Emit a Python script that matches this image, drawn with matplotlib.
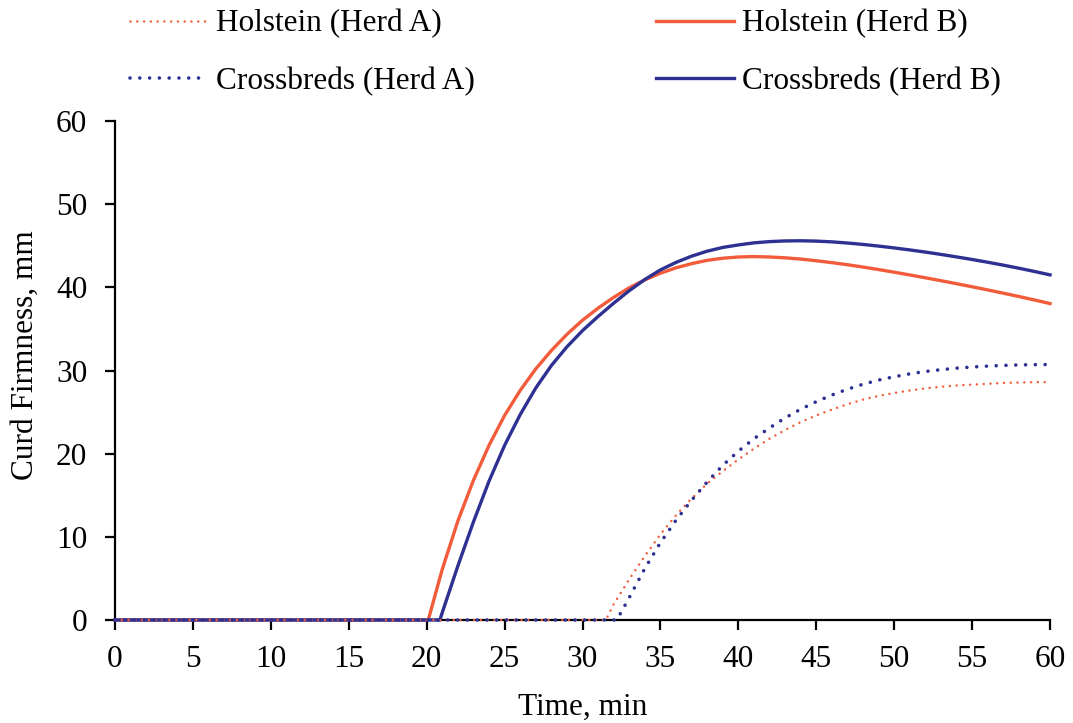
import numpy as np
import matplotlib
matplotlib.use('Agg')
import matplotlib.pyplot as plt
from matplotlib.lines import Line2D

plt.rcParams['font.family'] = ['Liberation Serif', 'DejaVu Serif']

ORANGE = '#F25C3B'
NAVY = '#2E3192'
FS = 22.5

# time (min) and curd firmness (mm)
t_hol_b = [0, 20.1, 21, 22, 23, 24, 25, 26, 27, 28, 29, 30, 31, 32, 33, 34, 35, 36, 37, 38, 39, 40,
           41, 42, 43, 44, 45, 46, 47, 48, 49, 50, 51, 52, 53, 54, 55, 56, 57, 58, 59, 60]
hol_b = [0, 0, 6.1, 11.9, 16.8, 21.0, 24.6, 27.6, 30.2, 32.4, 34.35, 36.05, 37.5, 38.8, 39.95, 40.9,
         41.7, 42.35, 42.85, 43.25, 43.5, 43.65, 43.7, 43.65, 43.55, 43.4, 43.2, 42.97, 42.72, 42.44,
         42.14, 41.82, 41.49, 41.15, 40.8, 40.44, 40.07, 39.69, 39.3, 38.9, 38.48, 38.05]

t_cross_b = [0, 20.85, 21, 22, 23, 24, 25, 26, 27, 28, 29, 30, 31, 32, 33, 34, 35, 36, 37, 38, 39, 40,
             41, 42, 43, 44, 45, 46, 47, 48, 49, 50, 51, 52, 53, 54, 55, 56, 57, 58, 59, 60]
cross_b = [0, 0, 0.9, 6.5, 11.8, 16.7, 21.0, 24.7, 27.9, 30.6, 32.85, 34.8, 36.5, 38.1, 39.6, 40.95,
           42.1, 43.0, 43.75, 44.35, 44.8, 45.1, 45.35, 45.5, 45.58, 45.6, 45.56, 45.47, 45.33, 45.16,
           44.96, 44.74, 44.5, 44.24, 43.96, 43.66, 43.35, 43.02, 42.67, 42.3, 41.91, 41.5]

t_hol_a = [0, 31.5, 32, 33, 34, 35, 36, 37, 38, 39, 40, 41, 42, 43, 44, 45, 46, 47, 48, 49, 50,
           51, 52, 53, 54, 55, 56, 57, 58, 59, 60]
hol_a = [0, 0, 1.9, 4.9, 7.7, 10.3, 12.6, 14.6, 16.4, 17.9, 19.3, 20.6, 21.8, 22.85, 23.8, 24.6, 25.3,
         25.95, 26.5, 26.95, 27.3, 27.6, 27.85, 28.05, 28.2, 28.3, 28.4, 28.5, 28.55, 28.6, 28.6]

t_cross_a = [0, 32.2, 33, 34, 35, 36, 37, 38, 39, 40, 41, 42, 43, 44, 45, 46, 47, 48, 49, 50,
             51, 52, 53, 54, 55, 56, 57, 58, 59, 60]
cross_a = [0, 0, 2.7, 6.2, 9.3, 12.0, 14.4, 16.6, 18.6, 20.3, 21.8, 23.1, 24.3, 25.35, 26.25, 27.05,
           27.75, 28.35, 28.85, 29.25, 29.6, 29.88, 30.1, 30.28, 30.42, 30.53, 30.61, 30.67, 30.7, 30.72]

labels = ['Holstein (Herd A)', 'Holstein (Herd B)', 'Crossbreds (Herd A)', 'Crossbreds (Herd B)']

DOT = (0, (0.01, 2.7))

fig = plt.figure(figsize=(10.73, 7.23), dpi=100)
ax = fig.add_axes([0.1072, 0.1425, 0.8714, 0.6901])

ax.plot(t_hol_b, hol_b, color=ORANGE, lw=2.4, clip_on=False, zorder=3)
ax.plot(t_cross_b, cross_b, color=NAVY, lw=2.4, clip_on=False, zorder=3)
ax.plot(t_hol_a, hol_a, color=ORANGE, lw=1.8, linestyle=DOT, dash_capstyle='round',
        clip_on=False, zorder=4)
ax.plot(t_cross_a, cross_a, color=NAVY, lw=2.6, linestyle=DOT, dash_capstyle='round',
        clip_on=False, zorder=4)

ax.set_xlim(0, 60)
ax.set_ylim(0, 60)
ax.set_xticks(np.arange(0, 61, 5))
ax.set_yticks(np.arange(0, 61, 10))
ax.spines['top'].set_visible(False)
ax.spines['right'].set_visible(False)
for s in ('left', 'bottom'):
    ax.spines[s].set_linewidth(1.6)
ax.tick_params(direction='out', length=7, width=1.6, labelsize=FS)
ax.tick_params(axis='x', pad=11)
ax.tick_params(axis='y', pad=13)
ax.set_xlabel('Time, min', fontsize=FS)
ax.set_ylabel('Curd Firmness, mm', fontsize=FS)
ax.xaxis.set_label_coords(0.5, -0.146)
ax.yaxis.set_label_coords(-0.08, 0.53)

handles = [
    Line2D([], [], color=ORANGE, lw=1.8, linestyle=DOT, dash_capstyle='round'),
    Line2D([], [], color=ORANGE, lw=2.4),
    Line2D([], [], color=NAVY, lw=2.6, linestyle=DOT, dash_capstyle='round'),
    Line2D([], [], color=NAVY, lw=2.4),
]
# legend fills column-wise: row 1 = Holstein, row 2 = Crossbreds
order = [0, 2, 1, 3]
fig.legend([handles[i] for i in order], [labels[i] for i in order],
           loc='upper left', bbox_to_anchor=(0.121, 0.987), ncol=2, frameon=False,
           fontsize=FS, handlelength=2.5, handletextpad=0.25, columnspacing=5.8,
           labelspacing=0.9, borderaxespad=0.0, borderpad=0.0)

fig.savefig('out.png', dpi=100)
